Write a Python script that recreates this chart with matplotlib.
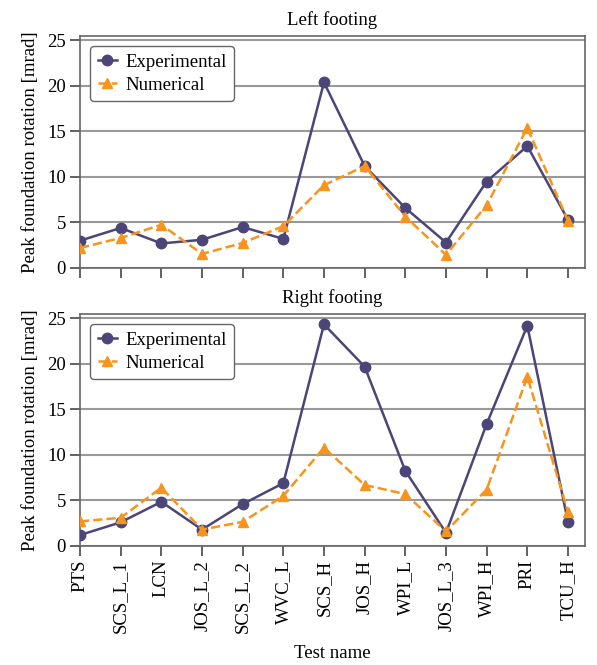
import numpy as np
import matplotlib
matplotlib.use("Agg")
import matplotlib.pyplot as plt

# Peak foundation rotation per test [mrad]
tests = ["PTS", "SCS_L_1", "LCN", "JOS_L_2", "SCS_L_2", "WVC_L", "SCS_H",
         "JOS_H", "WPI_L", "JOS_L_3", "WPI_H", "PRI", "TCU_H"]

left_exp = [3.0, 4.4, 2.7, 3.1, 4.5, 3.2, 20.4, 11.2, 6.6, 2.8, 9.5, 13.4, 5.3]
left_num = [2.2, 3.3, 4.75, 1.55, 2.75, 4.6, 9.1, 11.2, 5.65, 1.45, 6.9, 15.4, 5.2]

right_exp = [1.2, 2.6, 4.85, 1.8, 4.6, 6.9, 24.35, 19.7, 8.25, 1.45, 13.4, 24.2, 2.65]
right_num = [2.7, 3.1, 6.4, 1.8, 2.65, 5.5, 10.8, 6.7, 5.7, 1.6, 6.2, 18.6, 3.75]

plt.rcParams["font.family"] = ["Liberation Serif", "DejaVu Serif"]
fs = 13.5
plt.rcParams["font.size"] = fs

col_exp = "#4b4578"
col_num = "#f7941d"

fig = plt.figure(figsize=(5.97, 6.65), dpi=100)
ax1 = fig.add_axes([0.134, 0.597, 0.846, 0.349])
ax2 = fig.add_axes([0.134, 0.179, 0.846, 0.349])

x = np.arange(len(tests))
for ax, exp, num, title in [(ax1, left_exp, left_num, "Left footing"),
                            (ax2, right_exp, right_num, "Right footing")]:
    ax.plot(x, exp, "-o", color=col_exp, lw=1.8, ms=7.5, label="Experimental", zorder=3)
    ax.plot(x, num, "--^", color=col_num, lw=1.8, ms=7.5, label="Numerical", zorder=3)
    ax.set_xlim(0, 12.42)
    ax.set_ylim(0, 25.5)
    ax.set_yticks([0, 5, 10, 15, 20, 25])
    ax.set_xticks(x)
    ax.yaxis.grid(True, color="#999999", lw=1.5)
    ax.set_axisbelow(True)
    for s in ax.spines.values():
        s.set_color("#666666")
        s.set_linewidth(1.2)
    ax.tick_params(direction="out", length=7, width=1.3, color="#555555", pad=3)
    ax.set_title(title, fontsize=fs, pad=8)
    ax.set_ylabel("Peak foundation rotation [mrad]", fontsize=fs, labelpad=6)
    leg = ax.legend(loc="upper left", frameon=True, fancybox=True, fontsize=fs,
                    handlelength=1.0, borderpad=0.4, labelspacing=0.3,
                    handletextpad=0.45, borderaxespad=0.55)
    leg.get_frame().set_edgecolor("#666666")
    leg.get_frame().set_linewidth(1.0)
    leg.get_frame().set_alpha(1.0)

ax1.set_xticklabels([])
ax2.set_xticklabels(tests, rotation=90)
ax2.set_xlabel("Test name", fontsize=fs, labelpad=9)

fig.savefig("out.png", dpi=100)
